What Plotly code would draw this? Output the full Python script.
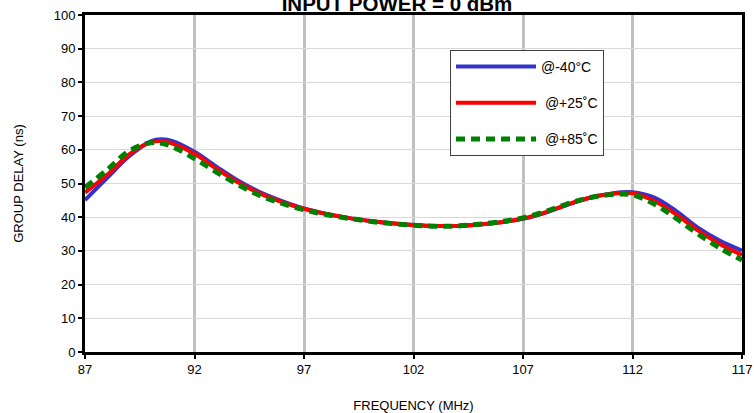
import plotly.graph_objects as go

freq_mhz = [87, 88, 89, 90, 90.5, 91, 92, 93, 94, 95, 96, 97, 98, 99, 100, 101, 102,
            103, 104, 105, 106, 107, 108, 109, 110, 111, 112, 113, 114, 115, 116, 117]

delay_m40 = [45.1, 51.6, 58.0, 62.5, 63.1, 62.6, 59.4, 55.0, 50.8, 47.4, 44.8, 42.6,
             41.0, 39.8, 38.9, 38.2, 37.7, 37.4, 37.4, 37.8, 38.5, 39.5, 41.3, 43.6,
             45.7, 47.0, 47.4, 45.8, 41.8, 36.8, 33.0, 30.1]

delay_p25 = [47.3, 52.5, 58.6, 62.2, 62.6, 61.8, 58.8, 54.4, 50.3, 47.0, 44.5, 42.5,
             41.0, 39.8, 38.9, 38.2, 37.7, 37.4, 37.4, 37.8, 38.5, 39.6, 41.4, 43.7,
             45.7, 46.9, 47.1, 44.8, 40.8, 36.0, 32.0, 28.8]

delay_p85 = [48.8, 54.0, 59.6, 62.1, 61.9, 60.9, 57.4, 53.4, 49.6, 46.4, 44.1, 42.2,
             40.8, 39.7, 38.8, 38.1, 37.6, 37.3, 37.4, 37.9, 38.7, 39.8, 41.6, 43.9,
             45.7, 46.7, 46.6, 43.9, 39.6, 35.0, 30.8, 27.3]

series_names = ["@-40°C", " @+25˚C", " @+85˚C"]
x_ticks = [87, 92, 97, 102, 107, 112, 117]
y_ticks = [0, 10, 20, 30, 40, 50, 60, 70, 80, 90, 100]

FONT = "Arial, Liberation Sans, sans-serif"

fig = go.Figure()
fig.add_trace(go.Scatter(x=freq_mhz, y=delay_m40, mode="lines", name=series_names[0],
                         line=dict(color="#3333cc", width=4, shape="spline"),
                         legendgroup="a"))
fig.add_trace(go.Scatter(x=freq_mhz, y=delay_p25, mode="lines", name=series_names[1],
                         line=dict(color="#ff0000", width=4, shape="spline"),
                         legendgroup="b"))
fig.add_trace(go.Scatter(x=freq_mhz, y=delay_p85, mode="lines", name=series_names[2],
                         line=dict(color="#008000", width=5, shape="spline", dash="9px,6px"),
                         legendgroup="c"))

fig.update_layout(
    width=754, height=413,
    margin=dict(l=85, r=12, t=15, b=61, autoexpand=False),
    paper_bgcolor="white", plot_bgcolor="white",
    font=dict(family=FONT, size=13, color="black"),
    title=dict(text="<b>INPUT POWER = 0 dBm</b>", x=397/754, xanchor="center",
               xref="container", yref="container",
               y=1 - 10.5/413, yanchor="bottom", automargin=False,
               font=dict(family=FONT, size=20.5, color="black")),
    showlegend=True,
    legend=dict(x=(450-85)/657, y=(352-50)/337, xanchor="left", yanchor="top",
                bgcolor="white", bordercolor="#404040", borderwidth=1,
                font=dict(family=FONT, size=14), tracegroupgap=15,
                itemwidth=80, entrywidth=178, entrywidthmode="pixels"),
)

fig.update_xaxes(
    range=[87, 117], tickvals=x_ticks, ticktext=[str(v) for v in x_ticks],
    showgrid=True, gridcolor="#c0c0c0", gridwidth=2.5,
    showline=True, linecolor="black", linewidth=2.5, mirror=True,
    ticks="outside", ticklen=4, tickcolor="black", tickwidth=1.5,
    zeroline=False, automargin=False,
    title=dict(text="FREQUENCY (MHz)", font=dict(family=FONT, size=13), standoff=28),
)
fig.update_yaxes(
    range=[0, 100], tickvals=y_ticks,
    showgrid=True, gridcolor="#d9d9d9", gridwidth=1,
    showline=True, linecolor="black", linewidth=3, mirror=True,
    ticks="outside", ticklen=4, tickcolor="black", tickwidth=1.5,
    zeroline=False, automargin=False,
    title=dict(text="GROUP DELAY (ns)", font=dict(family=FONT, size=13), standoff=28),
)

fig.write_html("out.html", config={"displayModeBar": False},
               post_script="document.body.style.margin='0px';")
